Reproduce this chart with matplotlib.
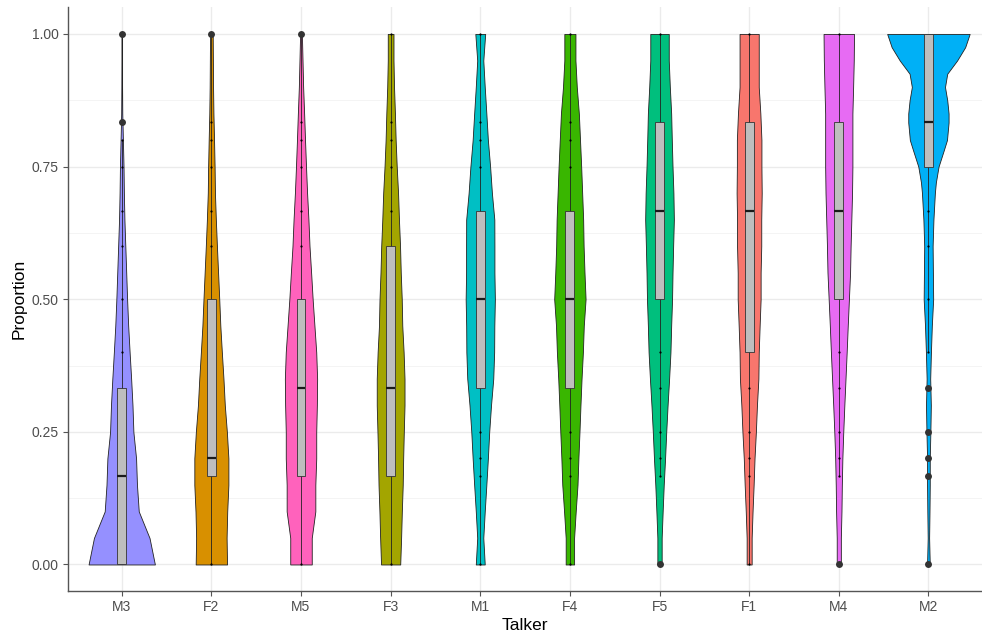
import numpy as np
import matplotlib
matplotlib.use('Agg')
import matplotlib.pyplot as plt
from matplotlib.ticker import MultipleLocator

plt.rcParams['font.family'] = ['Liberation Sans', 'DejaVu Sans']

# talkers in plot order, fill colours (ggplot hue palette, alphabetical levels)
talkers = ['M3', 'F2', 'M5', 'F3', 'M1', 'F4', 'F5', 'F1', 'M4', 'M2']
fills = {'F1': '#F8766D', 'F2': '#D89000', 'F3': '#A3A500', 'F4': '#39B600',
         'F5': '#00BF7D', 'M1': '#00BFC4', 'M2': '#00B0F6', 'M3': '#9590FF',
         'M4': '#E76BF3', 'M5': '#FF62BC'}

# violin half-widths (in category units)
grid_y = [0.0, 0.05, 0.1, 0.15, 0.2, 0.25, 0.3, 0.35, 0.4, 0.45, 0.5,
          0.55, 0.6, 0.65, 0.7, 0.75, 0.8, 0.85, 0.9, 0.95, 1.0]
half_w = {
    'M3': [0.37, 0.31, 0.19, 0.17, 0.16, 0.13, 0.12, 0.105, 0.088, 0.072, 0.06,
           0.05, 0.04, 0.03, 0.024, 0.02, 0.013, 0.006, 0.004, 0.003, 0.003],
    'F2': [0.175, 0.17, 0.177, 0.19, 0.19, 0.173, 0.15, 0.135, 0.117, 0.10, 0.088,
           0.075, 0.062, 0.05, 0.04, 0.036, 0.03, 0.023, 0.019, 0.017, 0.015],
    'M5': [0.12, 0.12, 0.16, 0.16, 0.17, 0.17, 0.177, 0.18, 0.17, 0.15, 0.13,
           0.113, 0.095, 0.083, 0.068, 0.056, 0.045, 0.035, 0.024, 0.017, 0.01],
    'F3': [0.107, 0.117, 0.125, 0.135, 0.14, 0.147, 0.155, 0.155, 0.145, 0.13, 0.124,
           0.113, 0.105, 0.093, 0.083, 0.068, 0.056, 0.048, 0.038, 0.032, 0.032],
    'M1': [0.05, 0.034, 0.05, 0.068, 0.085, 0.10, 0.12, 0.145, 0.155, 0.157, 0.163,
           0.158, 0.158, 0.157, 0.13, 0.11, 0.085, 0.068, 0.05, 0.034, 0.055],
    'F4': [0.047, 0.047, 0.065, 0.085, 0.095, 0.107, 0.118, 0.13, 0.145, 0.155, 0.175,
           0.163, 0.153, 0.148, 0.137, 0.126, 0.113, 0.10, 0.077, 0.062, 0.062],
    'F5': [0.024, 0.024, 0.035, 0.047, 0.062, 0.075, 0.09, 0.107, 0.122, 0.13, 0.14,
           0.145, 0.152, 0.16, 0.155, 0.145, 0.137, 0.13, 0.115, 0.103, 0.103],
    'F1': [0.028, 0.028, 0.038, 0.05, 0.06, 0.075, 0.087, 0.103, 0.107, 0.117, 0.128,
           0.128, 0.135, 0.135, 0.14, 0.137, 0.137, 0.125, 0.107, 0.107, 0.107],
    'M4': [0.023, 0.023, 0.03, 0.034, 0.04, 0.05, 0.062, 0.075, 0.088, 0.10, 0.113,
           0.126, 0.132, 0.14, 0.148, 0.152, 0.152, 0.152, 0.16, 0.167, 0.17],
}
m2_y = [0.0, 0.05, 0.1, 0.15, 0.2, 0.25, 0.3, 0.35, 0.4, 0.45, 0.5, 0.55, 0.6,
        0.65, 0.7, 0.72, 0.75, 0.78, 0.8, 0.833, 0.85, 0.875, 0.9, 0.925, 0.95,
        0.975, 1.0]
m2_w = [0.015, 0.008, 0.012, 0.015, 0.015, 0.022, 0.027, 0.02, 0.028, 0.038, 0.053,
        0.05, 0.047, 0.056, 0.072, 0.083, 0.113, 0.17, 0.207, 0.225, 0.225, 0.21,
        0.185, 0.21, 0.32, 0.41, 0.46]

# boxplot stats: q1, median, q3, lower whisker, upper whisker
q1 = [0, 1/6, 1/6, 1/6, 1/3, 1/3, 0.5, 0.4, 0.5, 0.75]
med = [1/6, 0.2, 1/3, 1/3, 0.5, 0.5, 2/3, 2/3, 2/3, 5/6]
q3 = [1/3, 0.5, 0.5, 0.6, 2/3, 2/3, 5/6, 5/6, 5/6, 1.0]
w_lo = [0, 0, 0, 0, 0, 0, 1/6, 0, 1/6, 0.4]
w_hi = [0.8, 1.0, 1.0, 1.0, 1.0, 1.0, 1.0, 1.0, 1.0, 1.0]
outliers = [[5/6, 1.0], [1.0], [1.0], [], [], [], [0.0], [], [0.0],
            [1/3, 0.25, 0.2, 1/6, 0.0]]
# small data points visible outside the boxes
points = [[0.8, 0.75, 2/3, 0.6, 0.5, 0.4],
          [5/6, 0.8, 0.75, 2/3, 0.6, 0.0],
          [5/6, 0.8, 0.75, 2/3, 0.6, 0.0],
          [1.0, 5/6, 0.8, 0.75, 2/3, 0.0],
          [1.0, 5/6, 0.8, 0.75, 0.25, 0.2, 1/6, 0.0],
          [1.0, 5/6, 0.8, 0.75, 0.25, 0.2, 1/6, 0.0],
          [1.0, 0.4, 1/3, 0.25, 0.2, 1/6],
          [1.0, 1/3, 0.25, 0.2, 1/6, 0.0],
          [1.0, 0.4, 1/3, 0.25, 0.2, 1/6],
          [2/3, 0.6, 0.5, 0.4]]

fig = plt.figure(figsize=(9.82, 6.35), dpi=100)
ax = fig.add_axes([0.0692, 0.0693, 0.931, 0.919])

box_w = 0.1
for i, t in enumerate(talkers):
    if t == 'M2':
        ys, ws = np.array(m2_y), np.array(m2_w)
    else:
        ys, ws = np.array(grid_y), np.array(half_w[t])
    ax.fill_betweenx(ys, i - ws, i + ws, facecolor=fills[t], edgecolor='#222222',
                     linewidth=0.6, zorder=2)
    # whiskers
    ax.plot([i, i], [q3[i], w_hi[i]], color='#222222', lw=0.6, zorder=3)
    ax.plot([i, i], [w_lo[i], q1[i]], color='#222222', lw=0.6, zorder=3)
    # small points
    ax.plot([i] * len(points[i]), points[i], 'o', color='black', ms=1.6,
            mew=0, zorder=3)
    # box
    ax.add_patch(plt.Rectangle((i - box_w / 2, q1[i]), box_w, q3[i] - q1[i],
                               facecolor='#BEBEBE', edgecolor='#333333',
                               linewidth=0.6, zorder=4))
    ax.plot([i - box_w / 2, i + box_w / 2], [med[i], med[i]], color='#1a1a1a',
            lw=1.6, solid_capstyle='butt', zorder=5)
    # outliers
    if outliers[i]:
        ax.plot([i] * len(outliers[i]), outliers[i], 'o', color='#333333',
                ms=5, mew=0, zorder=6)

ax.set_xlim(-0.6, len(talkers) - 0.4)
ax.set_ylim(-0.05, 1.05)
ax.set_xticks(range(len(talkers)))
ax.set_xticklabels(talkers)
ax.set_yticks([0, 0.25, 0.5, 0.75, 1.0])
ax.set_yticklabels(['0.00', '0.25', '0.50', '0.75', '1.00'])
ax.yaxis.set_minor_locator(MultipleLocator(0.125))

ax.grid(which='major', color='#EBEBEB', linewidth=1.0, zorder=0)
ax.grid(which='minor', axis='y', color='#F2F2F2', linewidth=0.6, zorder=0)
ax.set_axisbelow(True)

for s in ['top', 'right']:
    ax.spines[s].set_visible(False)
for s in ['left', 'bottom']:
    ax.spines[s].set_color('#555555')
    ax.spines[s].set_linewidth(1.0)

ax.tick_params(which='major', length=3.5, width=0.8, color='#555555',
               labelcolor='#4D4D4D', labelsize=10, pad=3)
ax.tick_params(which='minor', length=0)

ax.set_xlabel('Talker', fontsize=12.5, color='black', labelpad=3)
ax.set_ylabel('Proportion', fontsize=12.5, color='black', labelpad=4)

fig.savefig('out.png', dpi=100)
